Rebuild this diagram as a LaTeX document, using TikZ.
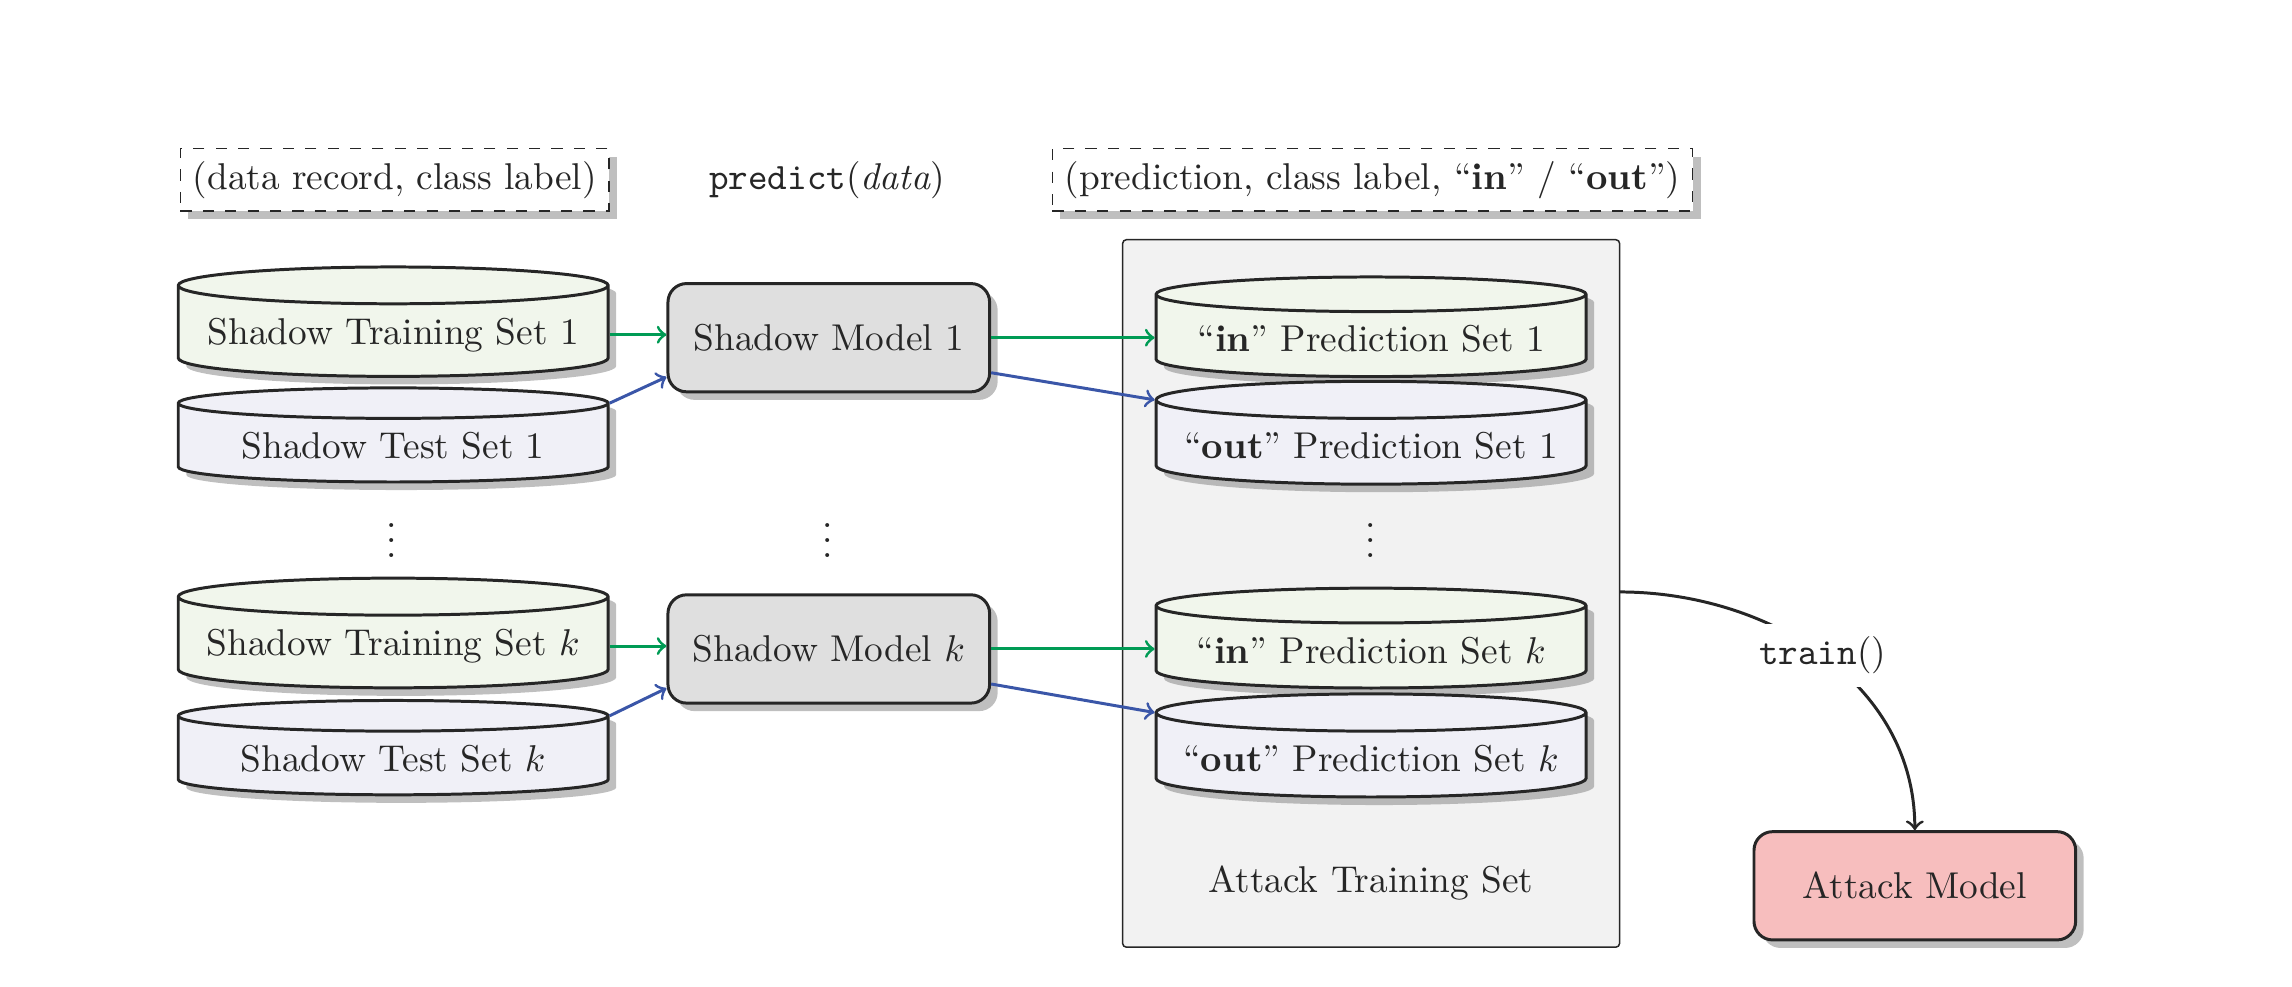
\documentclass[tikz,border=0pt]{standalone}
\usetikzlibrary{shapes.geometric,shadows,calc}
\definecolor{inset}{HTML}{F1F6EC}
\definecolor{outset}{HTML}{F0F0F7}
\definecolor{modelgray}{HTML}{DFDFDF}
\definecolor{attackred}{HTML}{F7BEBE}
\definecolor{boxgray}{HTML}{F2F2F2}
\definecolor{ingreen}{HTML}{009B55}
\definecolor{outblue}{HTML}{3A56A8}
\tikzset{
  dataset/.style={cylinder, shape border rotate=90, aspect=0.093, draw=black!85, thick,
    minimum width=4.05cm, minimum height=0.88cm, drop shadow, text=black!85},
  modelbox/.style={rectangle, rounded corners=5pt, draw=black!85, thick,
    minimum width=3.03cm, minimum height=1.02cm, drop shadow, text=black!85},
  tuplebox/.style={rectangle, draw=black!85, dashed, fill=white, drop shadow, text=black!85},
  inarrow/.style={->, thick, ingreen},
  outarrow/.style={->, thick, outblue}
}
\begin{document}
\begin{tikzpicture}
 \useasboundingbox (0, 0) rectangle (21.59, -9.288);
 \node [tuplebox] (datatuple) at (3.718, -1.694) {(data record, class label)};
 \node [text=black!85] (predict) at (7.793, -1.694) {\texttt{predict}(\emph{data})};
 \node [tuplebox] (predtuple) at (12.929, -1.694) {(prediction, class label, ``\textbf{in}'' / ``\textbf{out}'')};
 \draw [draw=black!85, fill=boxgray, rounded corners=1pt] (10.575, -2.258) rectangle (15.256, -8.922);
 \coordinate (attackset) at (15.256, -5.576);
 \node [text=black!85] (attacklabel) at (12.915, -8.317) {Attack Training Set};
 \node [dataset, fill=inset] (train1) at (3.704, -3.153) {Shadow Training Set 1};
 \node [dataset, fill=outset] (test1) at (3.704, -4.200) {Shadow Test Set 1};
 \node [dataset, fill=inset] (traink) at (3.704, -6.086) {Shadow Training Set $k$};
 \node [dataset, fill=outset] (testk) at (3.704, -7.146) {Shadow Test Set $k$};
 \node [modelbox, fill=modelgray] (model1) at (7.807, -3.181) {Shadow Model 1};
 \node [modelbox, fill=modelgray] (modelk) at (7.807, -6.113) {Shadow Model $k$};
 \node [dataset, fill=inset] (inpred1) at (12.915, -3.194) {``\textbf{in}'' Prediction Set 1};
 \node [dataset, fill=outset] (outpred1) at (12.915, -4.200) {``\textbf{out}'' Prediction Set 1};
 \node [dataset, fill=inset] (inpredk) at (12.915, -6.127) {``\textbf{in}'' Prediction Set $k$};
 \node [dataset, fill=outset] (outpredk) at (12.915, -7.146) {``\textbf{out}'' Prediction Set $k$};
 \node [modelbox, fill=attackred] (attack) at (18.037, -8.344) {Attack Model};
 \node [text=black!85] (dots1) at (3.690, -4.984) {$\vdots$};
 \node [text=black!85] (dots2) at (7.793, -4.984) {$\vdots$};
 \node [text=black!85] (dots3) at (12.915, -4.984) {$\vdots$};
 \draw [inarrow] (train1.east) -- (train1.east -| model1.west);
 \draw [outarrow] (test1.after top) -- ([yshift=-0.37cm]model1.west);
 \draw [inarrow] (traink.east) -- (traink.east -| modelk.west);
 \draw [outarrow] (testk.after top) -- ([yshift=-0.37cm]modelk.west);
 \draw [inarrow] (model1.east) -- (model1.east -| inpred1.west);
 \draw [outarrow] ([yshift=-0.33cm]model1.east) -- (outpred1.before top);
 \draw [inarrow] (modelk.east) -- (modelk.east -| inpredk.west);
 \draw [outarrow] ([yshift=-0.33cm]modelk.east) -- (outpredk.before top);
 \draw [->, thick, black!85] (attackset) to [out=0, in=90]
   node [pos=0.5, fill=white, text=black!85] (trainlabel) {\texttt{train}()} (attack.north);
\end{tikzpicture}
\end{document}
